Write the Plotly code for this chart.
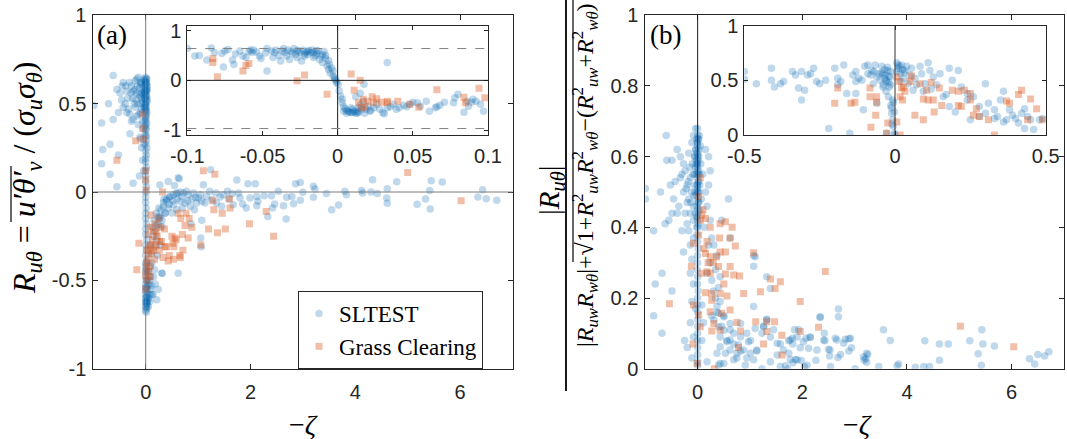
import plotly.graph_objects as go

W, H = 1067, 439

# ---------------- data ----------------
# Panel (a) main: -zeta vs R_u_theta
a_sltest = [
    (-0.99,0.49),(-0.84,0.39),(-0.82,0.24),(-0.84,0.16),(-0.68,0.27),(-0.68,0.10),(-0.62,0.41),(-0.62,0.66),
    (-0.55,0.03),(-0.52,0.21),(-0.71,0.50),(-0.43,0.62),(-0.36,0.57),(-0.31,0.62),(-0.27,0.60),(-0.24,0.57),
    (-0.20,0.63),(-0.17,0.64),(-0.14,0.65),(-0.12,0.59),(-0.11,0.54),(-0.10,0.62),(-0.08,0.56),(-0.06,0.51),
    (-0.04,0.64),(-0.03,0.57),(-0.03,0.48),(-0.46,0.52),(-0.39,0.50),(-0.33,0.47),(-0.30,0.44),(-0.27,0.40),
    (-0.24,0.41),(-0.20,0.48),(-0.17,0.43),(-0.14,0.38),(-0.11,0.31),(-0.08,0.25),(-0.06,0.18),(-0.04,0.12),
    (-0.12,0.09),(-0.24,0.05),(-0.30,0.33),(-0.36,0.45),(-0.49,0.56),(-0.52,0.45),(-0.43,0.48),(-0.17,0.56),
    (-0.25,0.53),(-0.15,0.50),(-0.08,0.47),(-0.13,0.44),(-0.04,0.36),(-0.03,0.27),(-0.10,0.30),(-0.55,0.58),
    (-0.38,0.60),(-0.21,0.58),(-0.09,0.61),(-0.06,0.40),(-0.19,0.52),(-0.07,0.53),(-0.28,0.56),(-0.34,0.53),
    (-0.45,0.60),(-0.16,0.60),(-0.12,0.55),(-0.09,0.50),(-0.22,0.50),(-0.05,0.58),(-0.07,0.62),(-0.10,0.45),
    # dense column near zero
    (0.00,0.65),(0.01,0.64),(-0.01,0.63),(0.02,0.62),(0.00,0.61),(-0.02,0.60),(0.01,0.59),(0.00,0.58),
    (0.02,0.57),(-0.01,0.56),(0.00,0.55),(0.01,0.54),(-0.02,0.53),(0.00,0.52),(0.02,0.51),(-0.01,0.50),
    (0.00,0.49),(0.01,0.48),(0.00,0.47),(-0.01,0.46),(0.02,0.45),(0.00,0.44),(0.01,0.43),(0.00,0.42),
    (-0.01,0.40),(0.02,0.39),(0.00,0.38),(0.01,0.36),(0.00,0.35),(-0.01,0.33),(0.00,0.31),(0.01,0.29),
    (0.00,0.27),(0.02,0.25),(0.00,0.23),(0.01,0.21),(0.00,0.19),(0.00,0.17),(0.01,0.14),(0.00,0.12),
    (0.00,0.09),(0.00,0.06),(0.01,0.03),(0.00,0.00),(0.00,-0.03),(0.00,-0.06),(0.01,-0.09),(0.00,-0.12),
    (0.00,-0.15),(0.01,-0.18),(0.00,-0.21),(0.00,-0.24),(0.02,-0.27),(0.00,-0.30),(0.01,-0.33),(0.00,-0.36),
    (0.02,-0.39),(0.00,-0.42),(0.01,-0.44),(0.03,-0.46),(0.00,-0.48),(0.02,-0.50),(0.00,-0.52),(0.04,-0.53),
    (0.01,-0.54),(0.00,-0.56),(0.03,-0.57),(0.00,-0.58),(0.02,-0.59),(0.00,-0.60),(0.04,-0.61),(0.01,-0.62),
    (0.00,-0.63),(0.03,-0.64),(0.00,-0.65),(0.02,-0.66),(0.00,-0.67),(0.01,-0.68),(0.06,-0.60),(0.08,-0.58),
    (0.10,-0.55),(0.07,-0.50),(0.05,-0.45),(0.09,-0.48),(-0.02,0.63),(0.03,0.60),(-0.03,0.55),(0.03,0.52),
    (-0.02,0.48),(0.03,0.58),(0.02,0.64),(-0.02,0.57),(0.01,0.61),(0.02,0.54),(0.00,0.62),(0.01,0.57),
    (-0.01,0.53),(0.00,0.50),(0.01,0.46),(0.00,0.41),(-0.01,0.37),(0.01,0.32),(0.00,-0.45),(0.02,-0.55),
    (0.01,-0.60),(0.00,-0.62),(0.03,-0.62),(0.01,-0.65),(0.02,-0.63),(0.00,-0.54),(0.01,-0.50),(0.00,-0.40),
    # branch and cloud at positive -zeta
    (0.24,-0.55),(0.21,-0.61),(0.15,-0.48),(0.31,-0.46),(0.18,-0.31),(0.27,-0.14),(0.34,-0.08),(0.46,-0.03),
    (0.59,-0.01),(0.62,0.08),(0.40,-0.05),(0.37,-0.12),(0.31,-0.16),(0.21,-0.19),(0.15,-0.25),(0.11,-0.35),
    (0.08,-0.42),(0.11,-0.53),(0.05,-0.65),(0.64,0.075),(1.24,0.126),(0.55,0.037),(1.10,0.041),(1.74,0.068),
    (1.95,0.047),(2.09,0.047),(2.86,0.047),(2.95,0.054),(4.33,0.070),(4.79,0.058),(5.45,0.064),(5.66,0.056),
    (6.43,0.013),(6.34,-0.029),(6.50,-0.038),(6.70,-0.046),(4.61,0.019),(4.61,-0.064),(5.18,-0.070),(5.34,-0.040),
    (5.42,0.009),(5.43,-0.096),(3.55,-0.10),(3.68,-0.074),(3.80,0.004),(3.83,-0.015),(4.14,-0.006),(4.30,0.0),
    (4.42,-0.008),(3.45,-0.008),(3.23,0.017),(3.20,-0.030),(3.00,-0.002),(2.95,-0.047),(2.82,-0.066),(2.68,-0.153),
    (2.63,-0.078),(2.69,-0.030),(2.53,0.004),(2.46,-0.068),(2.42,-0.091),(2.33,-0.138),(2.26,-0.021),(2.14,-0.053),
    (2.12,-0.078),(1.92,-0.091),(1.85,-0.068),(1.80,-0.032),(1.77,-0.006),(1.65,-0.010),(1.56,0.004),(1.58,-0.038),
    (1.42,-0.028),(1.34,-0.006),(1.22,0.004),(1.26,-0.043),(1.07,-0.16),(0.86,-0.18),(1.05,-0.26),(1.06,-0.31),
    (0.62,-0.46),(0.31,-0.46),(0.34,-0.06),(0.40,-0.04),(0.46,-0.025),(0.53,-0.015),(0.59,-0.006),(0.66,0.0),
    (0.72,-0.006),(0.81,-0.015),(0.91,-0.006),(1.01,-0.034),(1.07,-0.053),(1.13,-0.062),(0.97,-0.062),(0.85,-0.081),
    (0.75,-0.062),(0.66,-0.053),(0.53,-0.072),(0.43,-0.091),(0.37,-0.119),(0.27,-0.147),(0.24,-0.185),(0.18,-0.223),
    (0.21,-0.27),(0.31,-0.195),(0.50,-0.119),(0.59,-0.10),(0.69,-0.025),(0.78,0.004),(0.88,-0.04),(1.04,-0.015),
    (1.16,-0.025),(1.35,-0.062),(1.45,-0.081),(1.48,-0.015),(1.67,-0.072),(1.99,-0.034),(2.12,-0.025),(2.40,-0.021),
    (2.79,-0.025),(3.20,0.032),(4.12,0.009),(4.60,-0.034),(0.27,0.04),(0.43,0.06),(0.12,-0.40),(0.14,-0.58),
    (0.18,-0.52),(0.09,-0.30),(0.13,-0.20),(0.22,-0.36),(0.17,-0.44),(0.28,-0.30),(0.25,-0.09),(0.45,-0.07),
    (0.60,-0.04),(0.70,-0.09),(0.93,-0.10),(0.20,-0.12),(0.16,-0.16),(0.23,-0.14),(0.29,-0.10),(0.35,-0.04),
    (0.52,-0.05),(0.80,-0.05),(0.95,-0.03),(0.12,-0.58),(0.08,-0.62),(0.06,-0.52),
]
a_grass = [
    (-0.55,0.18),(-0.19,0.29),(-0.06,0.44),(-0.06,0.36),(-0.04,0.30),(0.0,0.12),(0.0,0.07),(0.01,0.01),
    (0.32,0.0),(1.10,0.12),(1.32,0.10),(5.0,0.11),(6.02,-0.05),(-0.17,-0.44),(-0.13,-0.29),(2.44,-0.25),
    (1.98,-0.18),(2.30,-0.11),(1.60,-0.04),(1.61,-0.09),(1.28,-0.05),(1.30,-0.10),(1.46,-0.12),(1.52,-0.21),
    (1.37,-0.23),(1.20,-0.21),(0.88,-0.20),(0.81,-0.26),(0.70,-0.24),(0.71,-0.33),(0.65,-0.36),(0.58,-0.27),
    (0.54,-0.31),(0.50,-0.25),(0.45,-0.36),(0.43,-0.39),(0.40,-0.31),(0.36,-0.21),(0.33,-0.37),(0.30,-0.28),
    (0.28,-0.20),(0.26,-0.33),(0.25,-0.15),(0.22,-0.25),(0.20,-0.30),(0.18,-0.18),(0.17,-0.38),(0.15,-0.22),
    (0.13,-0.27),(0.12,-0.34),(0.10,-0.13),(0.09,-0.42),(0.08,-0.20),(0.07,-0.31),(0.06,-0.45),(0.05,-0.24),
    (0.04,-0.38),(0.03,-0.50),(0.02,-0.33),(0.01,-0.43),(0.00,-0.55),(0.00,-0.47),(0.02,-0.40),(0.05,-0.35),
    (0.10,-0.30),(0.15,-0.33),(0.20,-0.23),(0.08,-0.48),(0.62,-0.12),(1.05,-0.30),(0.75,-0.19),(0.83,-0.15),
    (0.77,-0.12),(0.67,-0.15),(0.56,-0.26),(0.52,-0.29),(0.66,-0.37),(0.53,-0.38),(0.37,-0.31),(0.27,-0.28),
]

# Panel (a) inset: zoom on -0.1 < -zeta < 0.1
a_in_sltest = [
    (-0.100,0.64),(-0.095,0.49),(-0.092,0.50),(-0.087,0.41),(-0.084,0.65),(-0.082,0.56),(-0.077,0.54),(-0.076,0.27),
    (-0.075,0.59),(-0.073,0.62),(-0.070,0.41),(-0.069,0.32),(-0.068,0.53),(-0.065,0.59),(-0.063,0.49),(-0.061,0.46),
    (-0.059,0.58),(-0.058,0.61),(-0.057,0.56),(-0.056,0.61),(-0.054,0.57),(-0.052,0.49),(-0.051,0.44),(-0.047,0.19),
    (-0.047,0.64),(-0.043,0.46),(-0.042,0.56),(-0.041,0.61),(-0.039,0.50),(-0.038,0.39),(-0.037,0.59),(-0.036,0.64),
    (-0.035,0.56),(-0.034,0.49),(-0.033,0.61),(-0.032,0.42),(-0.031,0.58),(-0.029,0.64),(-0.028,0.52),(-0.027,0.46),
    (-0.026,0.59),(-0.025,0.56),(-0.024,0.39),(-0.023,0.61),(-0.022,0.49),(-0.021,0.57),(-0.020,0.52),(-0.018,0.56),
    (-0.017,0.61),(-0.016,0.46),(-0.015,0.50),(-0.014,0.54),(-0.013,0.59),(-0.012,0.42),(-0.011,0.49),(-0.010,0.36),
    (-0.008,0.44),(-0.007,0.29),(-0.006,0.22),(-0.0055,0.32),(-0.005,0.15),(-0.004,0.25),(-0.003,0.09),(-0.003,0.19),
    (-0.002,0.05),(-0.002,0.02),(-0.001,-0.01),(-0.0007,-0.05),(0.0004,-0.08),(0.001,-0.21),(0.002,-0.32),(0.003,-0.38),
    (0.003,-0.45),(0.004,-0.53),(0.005,-0.57),(0.006,-0.60),(0.007,-0.62),(0.008,-0.64),(0.009,-0.65),(0.010,-0.58),
    (0.012,-0.66),(0.013,-0.62),(0.014,-0.55),(0.015,-0.50),(0.016,-0.58),(0.017,-0.42),(0.0175,-0.08),(0.015,-0.26),
    (0.012,-0.33),(0.018,-0.66),(0.019,-0.58),(0.020,-0.52),(0.0215,-0.62),(0.024,-0.55),(0.026,-0.48),(0.028,-0.58),
    (0.030,-0.65),(0.031,-0.67),(0.033,-0.55),(0.033,0.36),(0.035,-0.53),(0.037,-0.48),(0.039,-0.58),(0.041,-0.55),
    (0.044,-0.50),(0.046,-0.53),(0.048,-0.48),(0.050,-0.44),(0.053,-0.45),(0.055,-0.52),(0.059,-0.42),(0.061,-0.62),
    (0.065,-0.55),(0.066,-0.53),(0.068,-0.50),(0.071,-0.44),(0.077,-0.45),(0.078,-0.35),(0.080,-0.28),(0.084,-0.64),
    (0.086,-0.42),(0.087,-0.52),(0.089,-0.44),(0.090,-0.38),(0.092,-0.42),(0.095,-0.48),(0.097,-0.62),
    (-0.030,0.55),(-0.019,0.60),(-0.022,0.53),(-0.016,0.56),(-0.010,0.52),(-0.009,0.58),(-0.044,0.59),(-0.048,0.55),
    (0.006,-0.66),(0.011,-0.62),(0.009,-0.55),(0.014,-0.64),(0.022,-0.60),(-0.027,0.60),(-0.020,0.58),(-0.014,0.60),
    (-0.008,0.50),(-0.006,0.40),(0.004,-0.62),(0.010,-0.64),(0.013,-0.66),
]
a_in_grass = [
    (-0.083,0.44),(-0.083,0.36),(-0.080,0.07),(-0.063,0.19),(-0.061,0.30),(-0.059,0.34),(-0.027,-0.01),(-0.022,0.11),
    (-0.007,-0.28),(0.009,0.13),(0.011,-0.20),(0.015,0.0),(0.017,-0.38),(0.018,-0.53),(0.020,-0.42),(0.023,-0.33),
    (0.026,-0.37),(0.029,-0.44),(0.033,-0.42),(0.040,-0.42),(0.048,-0.48),(0.054,-0.54),(0.066,-0.19),(0.084,-0.34),
    (0.085,-0.45),(0.094,-0.16),(0.098,-0.35),(0.014,-0.45),(0.016,-0.55),(0.024,-0.45),(0.033,-0.45),
]

# Panel (b) main
b_sltest = [
    (-1.00,0.51),(-1.00,0.48),(-0.84,0.39),(-0.62,0.41),(-0.59,0.59),(-0.49,0.59),(-0.60,0.66),(-0.71,0.50),
    (-0.68,0.27),(-0.81,0.24),(-0.49,0.22),(-0.84,0.15),(-0.68,0.10),(-0.20,0.06),(-0.11,0.03),(-0.39,0.62),
    (-0.33,0.60),(-0.27,0.58),(-0.30,0.55),(-0.43,0.53),(-0.52,0.52),(-0.46,0.48),(-0.36,0.46),(-0.27,0.50),
    (-0.20,0.52),(-0.17,0.48),(-0.14,0.44),(-0.20,0.41),(-0.30,0.39),(-0.39,0.44),(-0.27,0.33),(-0.14,0.35),
    (-0.08,0.37),(-0.11,0.31),(-0.14,0.27),(-0.08,0.24),(-0.11,0.19),(-0.04,0.17),(-0.14,0.13),(-0.08,0.09),
    (-0.24,0.56),(-0.17,0.61),(-0.11,0.64),(-0.08,0.66),(-0.04,0.68),(-0.33,0.54),(-0.49,0.44),(-0.04,0.57),
    (-0.14,0.54),(-0.20,0.47),(-0.08,0.46),(-0.24,0.44),(-0.17,0.39),(-0.08,0.42),(-0.25,0.08),(-0.55,0.42),
    (-0.10,0.58),(-0.06,0.52),(-0.12,0.50),(-0.05,0.44),(-0.03,0.62),(-0.06,0.60),(-0.15,0.57),(-0.09,0.55),
    (-0.18,0.53),(-0.07,0.49),(-0.13,0.47),(-0.22,0.51),
    # column near zero
    (0.00,0.68),(0.00,0.66),(0.01,0.65),(-0.01,0.64),(0.00,0.63),(0.02,0.62),(-0.02,0.61),(0.00,0.60),
    (0.01,0.59),(-0.01,0.58),(0.00,0.57),(0.02,0.56),(-0.02,0.55),(0.00,0.54),(0.01,0.53),(-0.01,0.52),
    (0.00,0.51),(0.01,0.50),(-0.03,0.49),(0.00,0.48),(0.02,0.47),(-0.01,0.46),(0.00,0.45),(0.01,0.44),
    (-0.02,0.43),(0.00,0.42),(0.01,0.41),(0.00,0.40),(-0.01,0.38),(0.00,0.36),(0.01,0.34),(0.00,0.32),
    (0.00,0.30),(-0.01,0.28),(0.00,0.26),(0.00,0.24),(0.01,0.22),(0.00,0.20),(0.00,0.18),(0.00,0.16),
    (0.00,0.14),(0.00,0.12),(0.00,0.10),(0.00,0.08),(0.00,0.06),(0.00,0.04),(0.00,0.02),(0.00,0.01),
    (-0.05,0.60),(-0.06,0.55),(-0.05,0.50),(-0.04,0.62),(0.05,0.63),(0.06,0.58),(0.04,0.52),(0.07,0.48),
    (0.03,0.66),(0.02,0.60),(-0.02,0.65),(0.03,0.55),(0.02,0.50),(-0.03,0.58),(0.04,0.45),(-0.02,0.40),
    (0.00,0.64),(0.01,0.61),(0.00,0.58),(-0.01,0.56),(0.01,0.55),(0.00,0.52),(-0.01,0.50),(0.01,0.47),
    (0.00,0.43),(0.02,0.65),(-0.02,0.59),(0.02,0.53),
    # right of column and cloud
    (0.15,0.62),(0.21,0.60),(0.24,0.56),(0.21,0.52),(0.15,0.50),(0.18,0.46),(0.24,0.42),(0.27,0.37),
    (0.31,0.35),(0.37,0.32),(0.24,0.30),(0.34,0.28),(0.27,0.25),(0.43,0.26),(0.40,0.23),(0.34,0.20),
    (0.43,0.19),(0.37,0.16),(0.50,0.15),(0.46,0.12),(0.62,0.11),(0.56,0.08),(0.69,0.07),(0.82,0.05),
    (0.94,0.03),(0.59,0.48),(0.46,0.42),(0.62,0.37),(1.07,0.32),(1.07,0.29),(1.32,0.14),(1.26,0.12),
    (1.45,0.11),(1.01,0.08),(1.13,0.05),(1.58,0.07),(0.75,0.03),(0.43,0.015),(0.18,0.02),(0.08,0.08),
    (0.11,0.13),(0.08,0.18),(0.43,0.062),(0.37,0.044),(0.53,0.044),(0.62,0.053),(0.75,0.044),(0.88,0.053),
    (1.01,0.044),(1.13,0.053),(0.62,0.081),(0.82,0.09),(0.94,0.10),(1.10,0.114),(1.23,0.10),(1.32,0.138),
    (1.26,0.119),(1.39,0.09),(1.52,0.072),(1.64,0.053),(1.77,0.081),(1.90,0.09),(2.02,0.076),(2.15,0.09),
    (2.28,0.053),(2.41,0.081),(2.53,0.053),(2.66,0.081),(2.79,0.072),(2.92,0.086),(3.17,0.034),(3.23,0.044),
    (1.07,0.025),(1.39,0.02),(1.58,0.006),(1.90,0.025),(2.09,0.01),(1.23,0.0),(0.91,0.01),(0.69,0.025),
    (0.50,0.015),(0.40,0.01),(1.52,0.039),(1.74,0.044),(0.78,0.067),(0.97,0.076),(0.43,0.09),(0.50,0.109),
    (0.56,0.076),(0.69,0.10),(0.40,0.119),(0.62,0.128),(0.82,0.128),(0.31,0.138),(0.40,0.157),(0.50,0.147),
    (0.37,0.176),(1.07,0.176),(1.10,0.317),(1.32,0.26),(1.39,0.227),(2.69,0.147),(2.34,0.147),(2.69,0.169),
    (2.34,0.145),(2.42,0.10),(1.85,0.11),(1.93,0.11),(1.81,0.086),(1.74,0.079),(1.82,0.07),(2.07,0.086),
    (2.15,0.088),(2.43,0.079),(2.63,0.086),(2.82,0.083),(2.89,0.085),(1.96,0.059),(2.12,0.058),(2.50,0.055),
    (2.52,0.036),(2.73,0.04),(2.68,0.032),(2.89,0.05),(2.94,0.059),(3.25,0.04),(3.21,0.029),(3.18,0.024),
    (3.23,0.018),(2.26,0.024),(1.98,0.023),(1.87,0.026),(1.82,0.017),(1.77,0.026),(1.68,0.008),(1.72,0.0),
    (2.04,0.006),(2.54,0.006),(3.01,0.0),(3.46,0.006),(3.81,0.008),(3.84,0.013),(3.55,0.11),(3.68,0.08),
    (4.34,0.079),(4.62,0.07),(4.79,0.07),(4.62,0.024),(4.16,0.004),(4.32,0.006),(4.43,0.006),(5.20,0.079),
    (5.43,0.11),(5.45,0.07),(5.67,0.064),(5.36,0.042),(5.42,0.01),(6.34,0.028),(6.50,0.04),(6.63,0.036),
    (6.71,0.048),(6.44,0.013),(0.21,0.35),(0.30,0.22),(0.27,0.15),(0.18,0.27),(0.12,0.40),(0.10,0.55),
]
b_grass = [
    (-0.54,0.184),(-0.08,0.18),(-0.12,0.29),(-0.08,0.355),(0.02,0.378),(0.05,0.42),(0.08,0.435),(0.02,0.487),
    (0.05,0.54),(0.15,0.425),(0.24,0.40),(0.43,0.41),(0.53,0.416),(0.66,0.40),(0.42,0.37),(0.62,0.37),
    (0.72,0.347),(0.43,0.33),(0.53,0.33),(0.15,0.326),(0.24,0.317),(0.36,0.317),(0.40,0.289),(0.62,0.289),
    (0.18,0.274),(0.24,0.27),(0.53,0.268),(0.69,0.265),(0.80,0.262),(1.07,0.328),(1.39,0.254),(1.58,0.246),
    (1.48,0.227),(1.20,0.218),(0.50,0.24),(0.27,0.213),(0.43,0.213),(0.15,0.215),(0.27,0.194),(0.56,0.206),
    (0.88,0.213),(0.62,0.166),(0.46,0.157),(0.24,0.161),(0.02,0.152),(0.05,0.119),(0.31,0.128),(0.75,0.131),
    (1.11,0.133),(1.32,0.133),(1.47,0.133),(1.32,0.105),(1.61,0.095),(0.82,0.107),(0.43,0.109),(0.27,0.107),
    (-0.09,0.07),(-0.01,0.015),(0.32,0.0),(0.78,0.06),(1.26,0.07),(1.61,0.039),(1.96,0.19),(2.44,0.275),
    (2.31,0.117),(1.96,0.105),(5.02,0.12),(6.04,0.062),(0.10,0.45),(0.12,0.34),(0.20,0.30),(0.08,0.27),
    (0.30,0.30),(0.18,0.36),
]

# Panel (b) inset: zoom on -0.5 < -zeta < 0.5
b_in_sltest = [
    (-0.50,0.58),(-0.50,0.51),(-0.46,0.47),(-0.41,0.50),(-0.41,0.61),(-0.40,0.44),(-0.38,0.47),(-0.37,0.49),
    (-0.34,0.58),(-0.33,0.55),(-0.31,0.58),(-0.32,0.43),(-0.31,0.32),(-0.30,0.41),(-0.29,0.55),(-0.28,0.56),
    (-0.27,0.61),(-0.26,0.49),(-0.25,0.47),(-0.23,0.50),(-0.22,0.06),(-0.20,0.61),(-0.19,0.52),(-0.19,0.46),
    (-0.18,0.49),(-0.17,0.64),(-0.16,0.38),(-0.15,0.015),(-0.14,0.55),(-0.13,0.58),(-0.13,0.49),(-0.12,0.52),
    (-0.13,0.38),(-0.105,0.23),(-0.10,0.63),(-0.09,0.64),(-0.08,0.55),(-0.077,0.59),(-0.072,0.47),(-0.066,0.64),
    (-0.06,0.29),(-0.055,0.56),(-0.05,0.50),(-0.044,0.63),(-0.039,0.46),(-0.033,0.55),(-0.03,0.40),(-0.028,0.49),
    (-0.024,0.59),(-0.022,0.35),(-0.019,0.44),(-0.017,0.53),(-0.014,0.27),(-0.011,0.20),(-0.008,0.14),(-0.006,0.08),
    (-0.003,0.015),(0.0,0.0),(-0.002,0.21),(-0.008,0.32),(0.006,0.66),(0.011,0.61),(0.017,0.56),(0.022,0.64),
    (0.028,0.52),(0.033,0.59),(0.039,0.63),(0.044,0.47),(0.05,0.55),(0.055,0.61),(0.06,0.41),(0.066,0.52),
    (0.072,0.46),(0.083,0.63),(0.088,0.56),(0.094,0.40),(0.10,0.47),(0.11,0.66),(0.116,0.59),(0.127,0.53),
    (0.138,0.46),(0.149,0.56),(0.16,0.35),(0.17,0.37),(0.18,0.61),(0.19,0.50),(0.21,0.59),(0.22,0.44),
    (0.24,0.32),(0.26,0.35),(0.28,0.26),(0.30,0.47),(0.31,0.29),(0.33,0.23),(0.34,0.17),(0.35,0.32),
    (0.36,0.40),(0.37,0.14),(0.38,0.23),(0.39,0.18),(0.40,0.15),(0.41,0.11),(0.43,0.24),(0.43,0.06),
    (0.44,0.17),(0.45,0.14),(0.46,0.05),(0.48,0.14),(0.49,0.15),(0.18,0.26),(0.20,0.21),(0.25,0.14),
    (0.28,0.17),(0.33,0.15),(-0.028,0.015),(-0.01,0.10),(-0.012,0.25),(-0.035,0.52),(-0.045,0.57),(-0.025,0.62),
    (-0.015,0.58),(-0.04,0.44),(-0.02,0.48),(0.005,0.58),(0.015,0.63),(-0.06,0.53),(-0.09,0.56),(-0.11,0.50),
    (0.03,0.57),(0.02,0.49),(0.12,0.42),(0.24,0.38),(0.30,0.20),(0.36,0.12),(0.42,0.20),(-0.005,0.30),
    (-0.03,0.50),(-0.02,0.54),(-0.04,0.56),(-0.015,0.46),(0.01,0.64),(0.025,0.60),(-0.07,0.58),(-0.035,0.60),
]
b_in_grass = [
    (-0.20,0.29),(-0.19,0.43),(-0.146,0.29),(-0.133,0.30),(-0.083,0.43),(-0.083,0.35),(-0.061,0.35),(-0.061,0.30),
    (-0.064,0.18),(-0.08,0.07),(-0.028,0.015),(-0.024,0.11),(0.006,0.53),(0.014,0.49),(0.022,0.43),(0.028,0.44),
    (0.033,0.40),(0.017,0.35),(0.025,0.32),(0.017,0.0),(0.006,0.12),(0.055,0.54),(0.05,0.49),(0.066,0.18),
    (0.083,0.47),(0.094,0.33),(0.105,0.41),(0.11,0.32),(0.12,0.48),(0.127,0.32),(0.147,0.43),(0.13,0.21),
    (0.094,0.14),(0.155,0.27),(0.19,0.41),(0.21,0.40),(0.21,0.27),(0.22,0.26),(0.23,0.41),(0.25,0.32),
    (0.25,0.38),(0.26,0.18),(0.27,0.24),(0.28,0.17),(0.31,0.14),(0.33,0.0),(0.37,0.31),(0.38,0.29),
    (0.41,0.37),(0.42,0.41),(0.44,0.14),(0.45,0.33),(0.47,0.24),(0.49,0.14),
]

# axes settings
a_xticks = [0, 2, 4, 6]
a_yticks = [-1, -0.5, 0, 0.5, 1]
a_in_xticks = [-0.1, -0.05, 0, 0.05, 0.1]
a_in_yticks = [-1, 0, 1]
a_in_bounds = [0.64, -0.97]
b_xticks = [0, 2, 4, 6]
b_yticks = [0, 0.2, 0.4, 0.6, 0.8, 1]
b_in_xticks = [-0.5, 0, 0.5]
b_in_yticks = [0, 0.5, 1]

# ---------------- styling ----------------
BLUE = "rgba(0,100,175,0.25)"
ORANGE = "rgba(217,83,25,0.38)"
AXC = "#262626"
SANS = "Liberation Sans, Arial, sans-serif"
SERIF = "Liberation Serif, Times New Roman, serif"
TICKF = dict(family=SANS, size=20, color=AXC)


def xs(p):
    return [q[0] for q in p]


def ys(p):
    return [q[1] for q in p]


fig = go.Figure()


def add_pair(slt, grs, xa, ya, legend):
    fig.add_trace(go.Scatter(x=xs(slt), y=ys(slt), mode="markers", name="SLTEST",
                             xaxis=xa, yaxis=ya, showlegend=legend,
                             marker=dict(symbol="circle", size=7.5, color=BLUE, line=dict(width=0))))
    fig.add_trace(go.Scatter(x=xs(grs), y=ys(grs), mode="markers", name="Grass Clearing",
                             xaxis=xa, yaxis=ya, showlegend=legend,
                             marker=dict(symbol="square", size=7, color=ORANGE, line=dict(width=0))))


add_pair(a_sltest, a_grass, "x", "y", True)
add_pair(a_in_sltest, a_in_grass, "x2", "y2", False)
add_pair(b_sltest, b_grass, "x3", "y3", False)
add_pair(b_in_sltest, b_in_grass, "x4", "y4", False)


def ax(domain, rng, ticks, anchor, ticklen=5, standoff=0):
    return dict(domain=domain, range=rng, tickvals=ticks, ticktext=["%g" % t for t in ticks],
                anchor=anchor, showgrid=False, zeroline=False, showline=True, linecolor=AXC,
                linewidth=1, mirror="ticks", ticks="inside", ticklen=ticklen, tickcolor=AXC,
                tickwidth=1, tickfont=TICKF, automargin=False, ticklabelstandoff=standoff)


def px_x(p):
    return p / W


def px_y(p):
    return 1 - p / H


main_y = [px_y(368.7), px_y(15.3)]
inset_y = [px_y(135), px_y(25.7)]

fig.update_layout(
    xaxis=ax([px_x(93.3), px_x(512.5)], [-1, 7], a_xticks, "y", 5, 5),
    yaxis=ax(main_y, [-1, 1], a_yticks, "x", 5, 2),
    xaxis2=ax([px_x(187.3), px_x(488)], [-0.1, 0.1], a_in_xticks, "y2", 4, 3),
    yaxis2=ax(inset_y, [-1.1, 1.1], a_in_yticks, "x2", 4, 1),
    xaxis3=ax([px_x(645.3), px_x(1064)], [-1, 7], b_xticks, "y3", 5, 5),
    yaxis3=ax(main_y, [0, 1], b_yticks, "x3", 5, 2),
    xaxis4=ax([px_x(744.3), px_x(1045.7)], [-0.5, 0.5], b_in_xticks, "y4", 4, 3),
    yaxis4=ax(inset_y, [0, 1], b_in_yticks, "x4", 4, 1),
)

shapes = []


def vline(xa, ya, color):
    shapes.append(dict(type="line", xref=xa, yref=ya + " domain", x0=0, x1=0, y0=0, y1=1,
                       line=dict(color=color, width=1), layer="above"))


def hline(xa, ya, yv, color, dash="solid"):
    shapes.append(dict(type="line", xref=xa + " domain", yref=ya, x0=0, x1=1, y0=yv, y1=yv,
                       line=dict(color=color, width=1, dash=dash), layer="above"))


def paper_line(x0, y0, x1, y1, w=1.2):
    shapes.append(dict(type="line", xref="paper", yref="paper", x0=px_x(x0), x1=px_x(x1),
                       y0=px_y(y0), y1=px_y(y1), line=dict(color="black", width=w)))


vline("x", "y", "#7a7a7a")
hline("x", "y", 0, "#7a7a7a")
vline("x2", "y2", "#1a1a1a")
hline("x2", "y2", 0, "#1a1a1a")
for bnd in a_in_bounds:
    hline("x2", "y2", bnd, "#808080", "dash")
vline("x3", "y3", "#1a1a1a")
vline("x4", "y4", "#333333")
# fraction bar of panel (b) y label, overline of (a) label, square-root bar of (b) label
paper_line(566, 391, 566, -5, 1.8)
paper_line(11, 222, 11, 166, 1.2)
paper_line(573, 262, 573, -5, 1.2)

annotations = [
    dict(text="(a)", x=px_x(112), y=px_y(35), size=27),
    dict(text="(b)", x=px_x(665), y=px_y(35), size=27),
    dict(text="\u2212<i>\u03b6</i>", x=px_x(303), y=px_y(424), size=28),
    dict(text="\u2212<i>\u03b6</i>", x=px_x(857), y=px_y(424), size=28),
    dict(text="<i>R</i><sub><i>u\u03b8</i></sub> = <i>u\u2032\u03b8\u2032</i><sub><i>v</i></sub>"
              " / (<i>\u03c3</i><sub><i>u</i></sub><i>\u03c3</i><sub><i>\u03b8</i></sub>)",
         x=px_x(26), y=px_y(178), textangle=-90, size=32),
    dict(text="|<i>R</i><sub><i>u\u03b8</i></sub>|", x=px_x(551), y=px_y(191), textangle=-90, size=29),
    dict(text="|<i>R</i><sub><i>uw</i></sub><i>R</i><sub><i>w\u03b8</i></sub>|+\u221a"
              "1+<i>R</i><sup>2</sup><sub><i>uw</i></sub><i>R</i><sup>2</sup><sub><i>w\u03b8</i></sub>"
              "\u2212(<i>R</i><sup>2</sup><sub><i>uw</i></sub>+<i>R</i><sup>2</sup><sub><i>w\u03b8</i></sub>)",
         x=px_x(585), y=px_y(175), textangle=-90, size=24),
]
ann = []
for a in annotations:
    size = a.pop("size", 24)
    ann.append(dict(xref="paper", yref="paper", showarrow=False, xanchor="center", yanchor="middle",
                    font=dict(family=SERIF, size=size, color="black"), **a))

fig.update_layout(
    width=W, height=H, margin=dict(l=0, r=0, t=0, b=0),
    paper_bgcolor="white", plot_bgcolor="white",
    shapes=shapes, annotations=ann,
    legend=dict(x=px_x(298), y=px_y(291), xanchor="left", yanchor="top",
                bgcolor="white", bordercolor=AXC, borderwidth=1,
                font=dict(family=SERIF, size=23, color="black"), itemwidth=30),
)

fig.write_html("out.html")
